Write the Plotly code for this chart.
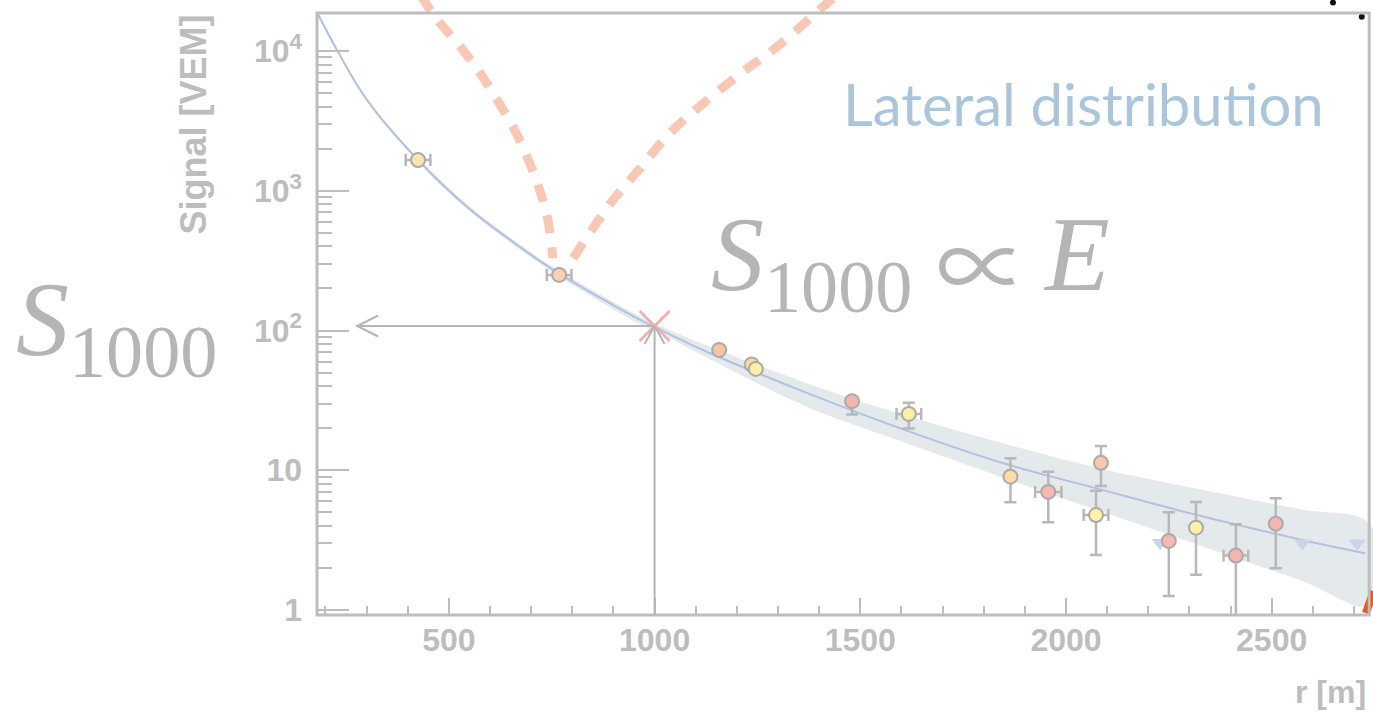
import numpy as np
import plotly.graph_objects as go

# ---- station data: distance to axis r [m], signal S [VEM] ----
station_r = [425, 768, 1157, 1236, 1246, 1480, 1618, 1865, 1957, 2085, 2073, 2250, 2316, 2413, 2510]
station_s = [1660, 250, 72.6, 57.1, 53.1, 31.2, 25.3, 9.0, 7.0, 11.3, 4.78, 3.12, 3.88, 2.45, 4.15]
station_s_hi = [None, None, None, None, None, 32.6, 30.4, 12.2, 9.77, 14.9, 7.14, 5.0, 5.93, 4.1, 6.3]
station_s_lo = [None, None, None, None, None, 25.1, 19.9, 5.9, 4.24, 7.71, 2.47, 1.26, 1.79, 0.5, 1.99]
station_r_err = [30, 30, None, None, None, None, 30, None, 32, None, 30, None, None, 30, None]
station_color = ["#fde3ad", "#fbd0ae", "#f8c4a4", "#fbd7a3", "#fdf1a4", "#f6b6ad", "#fdf0a2",
                 "#fcdba6", "#f6b8b0", "#f9c8a8", "#fdf1a6", "#f6b8b4", "#fdf1a6", "#f5b5b0", "#f5b5b0"]

# non-triggered stations (upper limits)
silent_r = [2229, 2575, 2708]
silent_s = [3.03, 3.0, 3.0]

# lateral distribution function and its uncertainty band
ldf_r = [183, 228, 301, 425, 544, 666, 763, 965, 1000, 1127, 1370, 1613, 1840, 2083, 2316, 2569, 2727]
ldf_s = [18100, 10170, 4460, 1660, 769, 409, 261, 119, 106, 70.5, 35.8, 19.2, 11.4, 7.3, 4.8, 3.2, 2.55]
band_r = [183, 228, 301, 425, 544, 666, 763, 965, 1000, 1127, 1370, 1613, 1840, 2083, 2316, 2569, 2739]
band_hi = [18800, 10500, 4600, 1720, 800, 426, 273, 126, 112, 78, 42, 24.5, 15.8, 10.3, 7.4, 5.25, 4.1]
band_lo = [17400, 9850, 4320, 1600, 740, 392, 249, 111, 100.5, 64, 28.5, 15.6, 9.0, 5.1, 2.95, 1.63, 1.08]

# reference distance and signal
s1000_r = 1000
s1000 = 107.7
arrow_tip_r = 277

# shower-front sketch (dashed)
front_left_r = [432, 463, 528, 576, 617, 658, 690, 718, 739, 751, 752]
front_left_s = [25100, 18100, 10700, 6920, 4480, 2800, 1750, 1070, 652, 377, 329]
front_right_r = [802, 893, 954, 1041, 1119, 1215, 1293, 1414, 1442]
front_right_s = [329, 813, 1330, 2650, 4230, 7110, 10450, 21300, 25100]

# fragments of neighbouring graphics
dots_r = [2649, 2719]
dots_s = [22200, 17600]
slash_r = [2748, 2729]
slash_s = [1.36, 0.95]

# axes
x_range = [179.4, 2746.3]
y_range = [-0.0358, 4.365]
x_ticks = [500, 1000, 1500, 2000, 2500]
y_ticks = [1, 10, 100, 1000, 10000]
y_ticktext = ["1", "10", "10<sup>2</sup>", "10<sup>3</sup>", "10<sup>4</sup>"]
frame_right_r = 2737
frame_top_s = 18700

GREY = "#bdbdbd"
TEXT_GREY = "#b5b5b5"

fig = go.Figure()

# uncertainty band
fig.add_trace(go.Scatter(
    x=band_r + band_r[::-1], y=band_hi + band_lo[::-1],
    fill="toself", fillcolor="#e4e9ec", line=dict(width=0, shape="spline"),
    mode="lines", hoverinfo="skip", showlegend=False))

# dashed shower front
for fr, fs in ((front_left_r, front_left_s), (front_right_r, front_right_s)):
    fig.add_trace(go.Scatter(
        x=fr, y=fs, mode="lines",
        line=dict(color="#f8c8b4", width=9, dash="18px,14px", shape="spline"),
        showlegend=False, hoverinfo="skip"))

# fitted LDF
fig.add_trace(go.Scatter(
    x=ldf_r, y=ldf_s, mode="lines",
    line=dict(color="#b3c0e2", width=2, shape="spline"),
    showlegend=False))

# upper limits
fig.add_trace(go.Scatter(
    x=silent_r, y=silent_s, mode="markers",
    marker=dict(symbol="triangle-down", size=15, color="#cad5ec", line=dict(width=0)),
    showlegend=False))

# stations with error bars
err_plus = [None if h is None else h - s for h, s in zip(station_s_hi, station_s)]
err_minus = [None if l is None else s - l for l, s in zip(station_s_lo, station_s)]
fig.add_trace(go.Scatter(
    x=station_r, y=station_s, mode="markers",
    marker=dict(size=14, color=station_color, line=dict(color="#ababab", width=2)),
    error_y=dict(type="data", symmetric=False, array=err_plus, arrayminus=err_minus,
                 color="#b8b8b8", thickness=2.5, width=6),
    error_x=dict(type="data", array=station_r_err, color="#b8b8b8", thickness=2.5, width=6),
    showlegend=False))

# S1000 marker
fig.add_trace(go.Scatter(
    x=[s1000_r], y=[s1000], mode="markers",
    marker=dict(symbol="x-thin-open", size=30, color="#f6aca6", line=dict(width=2.5)),
    showlegend=False))

# fragments
fig.add_trace(go.Scatter(x=dots_r, y=dots_s, mode="markers",
                         marker=dict(color="#111111", size=6), showlegend=False))
fig.add_trace(go.Scatter(x=slash_r, y=slash_s, mode="lines",
                         line=dict(color="#e8571f", width=8), showlegend=False))

# frame in paper units derived from the axis ranges
fx1 = (frame_right_r - x_range[0]) / (x_range[1] - x_range[0])
fy1 = (np.log10(frame_top_s) - y_range[0]) / (y_range[1] - y_range[0])
shapes = [
    dict(type="rect", xref="paper", yref="paper", x0=0, x1=fx1, y0=0, y1=fy1,
         line=dict(color=GREY, width=3), fillcolor="rgba(0,0,0,0)", layer="above"),
    # arrows from S1000
    dict(type="line", xref="x", yref="y domain", x0=s1000_r, x1=s1000_r, y0=0,
         y1=(np.log10(s1000) - y_range[0]) / (y_range[1] - y_range[0]),
         line=dict(color="#b5b5b5", width=2)),
    dict(type="line", xref="x", yref="y", x0=arrow_tip_r, x1=s1000_r, y0=s1000, y1=s1000,
         line=dict(color="#b5b5b5", width=2)),
    dict(type="path", xref="x", yref="y", xsizemode="pixel", ysizemode="pixel",
         xanchor=arrow_tip_r, yanchor=s1000, path="M 21,10.5 L 0,0 L 21,-10.5",
         line=dict(color="#b5b5b5", width=2)),
    dict(type="path", xref="x", yref="y", xsizemode="pixel", ysizemode="pixel",
         xanchor=s1000_r, yanchor=s1000, path="M -10,-18 L 0,0 L 10,-18",
         line=dict(color="#b5b5b5", width=2)),
]

tickfont = dict(family="Liberation Sans, Arial, sans-serif", size=32, color=GREY, weight="bold")
serif = "Liberation Serif, DejaVu Serif, serif"
nbsp = "&nbsp;"

fig.update_layout(
    width=1373, height=715,
    margin=dict(l=317, r=0, t=0, b=100),
    paper_bgcolor="white", plot_bgcolor="white",
    shapes=shapes,
    xaxis=dict(range=x_range, tickmode="array", tickvals=x_ticks, ticks="inside",
               ticklen=17, tickwidth=2, tickcolor=GREY, showgrid=False, zeroline=False,
               showline=False, tickfont=tickfont, ticklabelstandoff=3,
               minor=dict(tickmode="array", tickvals=list(range(200, 2800, 100)),
                          ticks="inside", ticklen=9, tickwidth=2, tickcolor=GREY, showgrid=False)),
    yaxis=dict(type="log", range=y_range, tickmode="array", tickvals=y_ticks, ticktext=y_ticktext,
               ticks="inside", ticklen=32, tickwidth=2, tickcolor=GREY, showgrid=False,
               zeroline=False, showline=False, tickfont=tickfont, ticklabelstandoff=14,
               minor=dict(tickmode="array",
                          tickvals=[d * 10 ** k for k in range(0, 4) for d in range(2, 10)],
                          ticks="inside", ticklen=15, tickwidth=2, tickcolor=GREY, showgrid=False)),
    annotations=[
        dict(text="Signal [VEM]", xref="paper", yref="paper", x=-0.1174, y=0.7976,
             textangle=-90, showarrow=False, xanchor="center", yanchor="middle",
             font=dict(family="Liberation Sans, Arial, sans-serif", size=36, color=GREY, weight="bold")),
        dict(text="r [m]", xref="paper", yref="paper", x=0.9953, y=-0.1247,
             showarrow=False, xanchor="right", yanchor="middle",
             font=dict(family="Liberation Sans, Arial, sans-serif", size=32, color=GREY, weight="bold")),
        dict(text="Lateral distribu\u200ction", xref="paper", yref="paper", x=0.7254, y=0.8325,
             showarrow=False, xanchor="center", yanchor="middle",
             font=dict(family="Lato, sans-serif", size=58, color="#aac6dd")),
        dict(text="<i>S</i><sub>1000</sub>" + nbsp * 5 + "<i>E</i>", xref="paper", yref="paper",
             x=0.5616, y=0.574, showarrow=False, xanchor="center", yanchor="middle",
             font=dict(family=serif, size=106, color=TEXT_GREY)),
        dict(text="\u221d", xref="paper", yref="paper",
             x=(982 - 317) / 1056, y=0.576, showarrow=False, xanchor="center", yanchor="middle",
             font=dict(family="Noto Sans CJK JP, DejaVu Serif, serif", size=92, color=TEXT_GREY)),
        dict(text="<i>S</i><sub>1000</sub>", xref="paper", yref="paper",
             x=-0.19, y=0.468, showarrow=False, xanchor="center", yanchor="middle",
             font=dict(family=serif, size=106, color=TEXT_GREY)),
    ],
)

fig.write_html("out.html")
